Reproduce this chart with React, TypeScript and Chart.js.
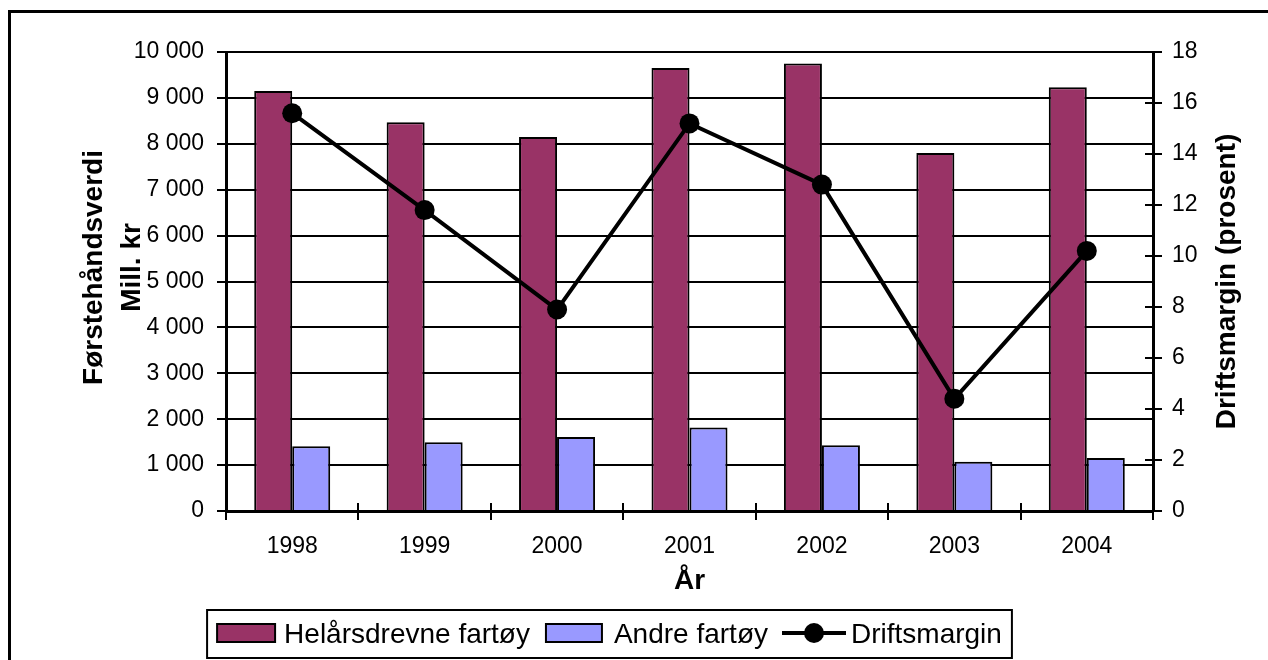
import React, { useEffect, useRef } from "react";
import { Chart, registerables } from "chart.js";

Chart.register(...registerables);

// ---- data ----
const years = ["1998", "1999", "2000", "2001", "2002", "2003", "2004"];
const helarsdrevne = [9150, 8470, 8150, 9650, 9750, 7800, 9230];
const andreFartoy = [1410, 1500, 1610, 1820, 1430, 1075, 1155];
const driftsmargin = [15.6, 11.8, 7.9, 15.2, 12.8, 4.4, 10.2];
const seriesLabels = ["Helårsdrevne fartøy", "Andre fartøy", "Driftsmargin"];
const leftAxis = { min: 0, max: 10000, step: 1000 };
const rightAxis = { min: 0, max: 18, step: 2 };
const leftTitle = ["Førstehåndsverdi", "Mill. kr"];
const rightTitle = "Driftsmargin (prosent)";
const xTitle = "År";

const FONT = '"Liberation Sans", Arial, Helvetica, sans-serif';
const COLOR_HEL = "#993366";
const COLOR_ANDRE = "#9999FF";

const fmtThousands = (v: number) =>
  String(v).replace(/\B(?=(\d{3})+(?!\d))/g, " ");

const decorPlugin = {
  id: "decor",
  beforeDraw(chart: any) {
    const ctx = chart.ctx;
    ctx.save();
    ctx.fillStyle = "#fff";
    ctx.fillRect(0, 0, chart.width, chart.height);
    ctx.restore();
  },
  afterDraw(chart: any) {
    const ctx: CanvasRenderingContext2D = chart.ctx;
    const area = chart.chartArea;
    ctx.save();
    ctx.strokeStyle = "#000";
    ctx.fillStyle = "#000";

    // outer frame (cropped at right/bottom)
    ctx.lineWidth = 3;
    ctx.beginPath();
    ctx.moveTo(9.5, chart.height + 20);
    ctx.lineTo(9.5, 11.5);
    ctx.lineTo(chart.width + 20, 11.5);
    ctx.stroke();

    // inner halves of crossing tick marks
    ctx.lineWidth = 2;
    const xs = chart.scales.x;
    for (let i = 0; i <= years.length; i++) {
      const px = Math.round(xs.getPixelForValue(i - 0.5));
      ctx.beginPath();
      ctx.moveTo(px, area.bottom - 8);
      ctx.lineTo(px, area.bottom);
      ctx.stroke();
    }
    const y1 = chart.scales.y1;
    for (const t of y1.ticks) {
      const py = Math.round(y1.getPixelForValue(t.value));
      ctx.beginPath();
      ctx.moveTo(area.right - 8, py);
      ctx.lineTo(area.right, py);
      ctx.stroke();
    }

    // axis titles
    ctx.font = `bold 28px ${FONT}`;
    ctx.textAlign = "center";
    ctx.textBaseline = "middle";
    const midY = (area.top + area.bottom) / 2;
    ctx.save();
    ctx.translate(area.left - 132, midY - 14);
    ctx.rotate(-Math.PI / 2);
    ctx.fillText(leftTitle[0], 0, 0);
    ctx.restore();
    ctx.save();
    ctx.translate(area.left - 94, midY - 14);
    ctx.rotate(-Math.PI / 2);
    ctx.fillText(leftTitle[1], 0, 0);
    ctx.restore();
    ctx.save();
    ctx.translate(area.right + 74, midY);
    ctx.rotate(-Math.PI / 2);
    ctx.fillText(rightTitle, 0, 0);
    ctx.restore();
    ctx.textBaseline = "alphabetic";
    ctx.fillText(xTitle, (area.left + area.right) / 2, area.bottom + 78);

    // legend
    ctx.font = `28px ${FONT}`;
    const w = seriesLabels.map((l) => ctx.measureText(l).width);
    const parts = [10, 58, 9, w[0], 16, 56, 12, w[1], 14, 64, 5, w[2], 10];
    const total = parts.reduce((a, b) => a + b, 0);
    const lx = 609.5 - total / 2;
    const top = 610;
    const h = 48;
    const cy = top + 23;
    ctx.lineWidth = 2;
    ctx.strokeRect(lx, top, total, h);
    let x = lx + parts[0];
    // item 1
    ctx.fillStyle = COLOR_HEL;
    ctx.fillRect(x, cy - 9, 58, 18);
    ctx.strokeRect(x, cy - 9, 58, 18);
    x += 58 + 9;
    ctx.fillStyle = "#000";
    ctx.textAlign = "left";
    ctx.textBaseline = "alphabetic";
    ctx.fillText(seriesLabels[0], x, cy + 10);
    x += w[0] + 16;
    // item 2
    ctx.fillStyle = COLOR_ANDRE;
    ctx.fillRect(x, cy - 9, 56, 18);
    ctx.strokeRect(x, cy - 9, 56, 18);
    x += 56 + 12;
    ctx.fillStyle = "#000";
    ctx.fillText(seriesLabels[1], x, cy + 10);
    x += w[1] + 14;
    // item 3
    ctx.lineWidth = 4;
    ctx.beginPath();
    ctx.moveTo(x, cy);
    ctx.lineTo(x + 64, cy);
    ctx.stroke();
    ctx.beginPath();
    ctx.arc(x + 32, cy, 10, 0, Math.PI * 2);
    ctx.fill();
    x += 64 + 5;
    ctx.fillText(seriesLabels[2], x, cy + 10);

    ctx.restore();
  },
};

export default function App() {
  const ref = useRef<HTMLCanvasElement>(null);

  useEffect(() => {
    const canvas = ref.current;
    if (!canvas) return;
    const chart = new Chart(canvas, {
      type: "bar",
      data: {
        labels: years,
        datasets: [
          {
            type: "line",
            label: seriesLabels[2],
            data: driftsmargin,
            yAxisID: "y1",
            borderColor: "#000",
            backgroundColor: "#000",
            borderWidth: 4,
            tension: 0,
            pointRadius: 10,
            pointHoverRadius: 10,
            pointBackgroundColor: "#000",
            pointBorderColor: "#000",
            pointBorderWidth: 0,
            order: 0,
          } as any,
          {
            type: "bar",
            label: seriesLabels[0],
            data: helarsdrevne,
            yAxisID: "y",
            backgroundColor: COLOR_HEL,
            borderColor: "#000",
            borderWidth: 2,
            categoryPercentage: 0.574,
            barPercentage: 1,
            order: 1,
          },
          {
            type: "bar",
            label: seriesLabels[1],
            data: andreFartoy,
            yAxisID: "y",
            backgroundColor: COLOR_ANDRE,
            borderColor: "#000",
            borderWidth: 2,
            categoryPercentage: 0.574,
            barPercentage: 1,
            order: 2,
          },
        ],
      },
      options: {
        responsive: false,
        maintainAspectRatio: false,
        animation: false,
        devicePixelRatio: 1,
        layout: { padding: { top: 52, left: 0, right: 0, bottom: 0 } },
        plugins: {
          legend: { display: false },
          title: { display: false },
          tooltip: { enabled: false },
        },
        scales: {
          x: {
            position: "bottom",
            z: 1,
            offset: true,
            grid: {
              offset: true,
              drawOnChartArea: false,
              drawTicks: true,
              tickLength: 9,
              color: "#000",
              lineWidth: 2,
            },
            border: { display: true, color: "#000", width: 3 },
            ticks: {
              color: "#000",
              font: { family: FONT, size: 23 },
              padding: 13,
              maxRotation: 0,
              autoSkip: false,
            },
            afterFit: (scale: any) => {
              scale.height = 149;
            },
          },
          y: {
            position: "left",
            min: leftAxis.min,
            max: leftAxis.max,
            grid: {
              drawOnChartArea: true,
              drawTicks: true,
              tickLength: 9,
              color: "#000",
              lineWidth: 2,
            },
            border: { display: true, color: "#000", width: 3 },
            ticks: {
              stepSize: leftAxis.step,
              color: "#000",
              font: { family: FONT, size: 23 },
              padding: 13,
              callback: (v: any) => fmtThousands(Number(v)),
            },
            afterFit: (scale: any) => {
              scale.width = 226;
            },
          },
          y1: {
            position: "right",
            min: rightAxis.min,
            max: rightAxis.max,
            grid: {
              drawOnChartArea: false,
              drawTicks: true,
              tickLength: 9,
              color: "#000",
              lineWidth: 2,
            },
            border: { display: true, color: "#000", width: 3 },
            ticks: {
              stepSize: rightAxis.step,
              color: "#000",
              font: { family: FONT, size: 23 },
              padding: 10,
            },
            afterFit: (scale: any) => {
              scale.width = 115;
            },
          },
        },
      },
      plugins: [decorPlugin],
    } as any);
    return () => chart.destroy();
  }, []);

  return (
    <div
      style={{
        position: "absolute",
        left: 0,
        top: 0,
        width: 1268,
        height: 660,
        background: "#fff",
      }}
    >
      <canvas
        ref={ref}
        width={1268}
        height={660}
        style={{ display: "block", width: 1268, height: 660 }}
      />
    </div>
  );
}
